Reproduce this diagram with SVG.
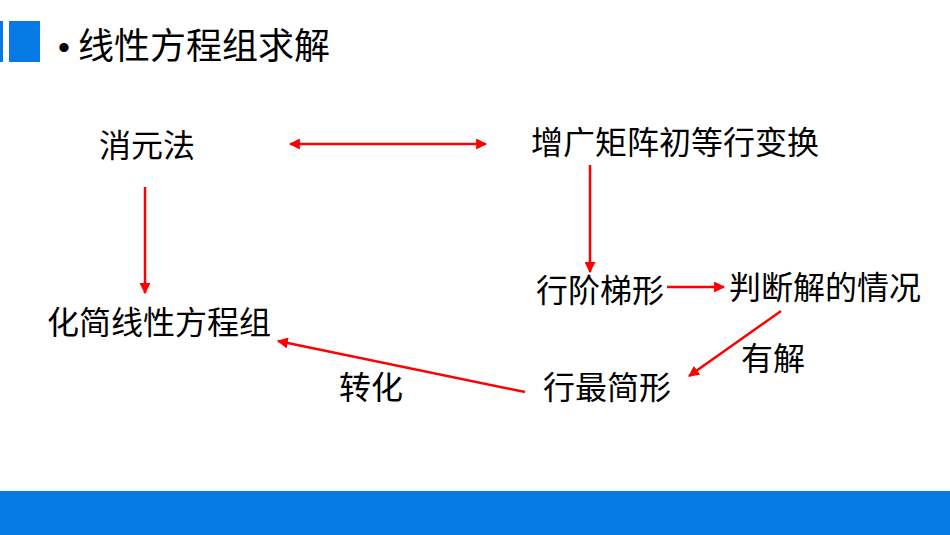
<svg xmlns="http://www.w3.org/2000/svg" width="950" height="535" viewBox="0 0 950 535">
<style>
text{font-family:"Noto Sans CJK SC","Noto Sans",sans-serif;fill:#000}
.lb{font-size:32px}
.c{stroke:#F00;stroke-width:2.5;fill:none}
</style>
<defs>
<marker id="ah" viewBox="0 0 10 10" refX="9" refY="5" markerWidth="4.4" markerHeight="4.4" orient="auto-start-reverse" markerUnits="strokeWidth">
<path d="M0,0 L10,5 L0,10 Z" fill="#F00"/>
</marker>
</defs>
<rect width="950" height="535" fill="#fff"/>
<rect x="0" y="21" width="3" height="41" fill="#0779E4"/>
<rect x="9" y="21" width="31" height="41" fill="#0779E4"/>
<text x="58" y="59" style="font-family:'Liberation Sans',sans-serif;font-size:34px">•</text>
<text x="78" y="59" style="font-size:36px">线性方程组求解</text>
<rect x="0" y="491" width="950" height="44" fill="#0779E4"/>
<g id="n1"><text class="lb" x="99" y="157">消元法</text></g>
<g id="n2"><text class="lb" x="531" y="154">增广矩阵初等行变换</text></g>
<g id="n3"><text class="lb" x="47" y="334">化简线性方程组</text></g>
<g id="n4"><text class="lb" x="536" y="302">行阶梯形</text></g>
<g id="n5"><text class="lb" x="729" y="299">判断解的情况</text></g>
<g id="n6"><text class="lb" x="543" y="399">行最简形</text></g>
<g id="l1"><text class="lb" x="741" y="370">有解</text></g>
<g id="l2"><text class="lb" x="339" y="399">转化</text></g>
<g id="connectors">
<line class="c" x1="290" y1="144" x2="486" y2="144" marker-start="url(#ah)" marker-end="url(#ah)"/>
<line class="c" x1="145" y1="187" x2="145" y2="293" marker-end="url(#ah)"/>
<line class="c" x1="590" y1="165" x2="590" y2="272" marker-end="url(#ah)"/>
<line class="c" x1="667" y1="287" x2="724" y2="287" marker-end="url(#ah)"/>
<line class="c" x1="781" y1="311" x2="689" y2="376" marker-end="url(#ah)"/>
<line class="c" x1="525" y1="392" x2="278" y2="341" marker-end="url(#ah)"/>
</g>
</svg>
